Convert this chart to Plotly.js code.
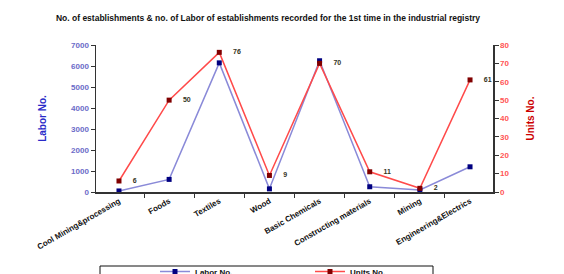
<!DOCTYPE html>
<html>
<head>
<meta charset="utf-8">
<script src="https://cdn.plot.ly/plotly-3.0.1.min.js"></script>
<style>html,body{margin:0;padding:0;background:#fff;}#chart{width:564px;height:274px;}</style>
</head>
<body>
<div id="chart"></div>
<script>
const categories = ["Cool Mining&processing", "Foods", "Textiles", "Wood", "Basic Chemicals", "Constructing materials", "Mining", "Engineering&Electrics"];
const laborNo = [50, 600, 6150, 150, 6250, 250, 100, 1200];
const unitsNo = [6, 50, 76, 9, 70, 11, 2, 61];
const unitLabels = unitsNo.map(v => "     " + v);

const traces = [
  {
    x: categories, y: laborNo, name: "Labor No.", type: "scatter", mode: "lines+markers",
    line: {color: "#8a8ad8", width: 1.5},
    marker: {symbol: "square", size: 5, color: "#000080"},
    yaxis: "y"
  },
  {
    x: categories, y: unitsNo, name: "Units No.", type: "scatter", mode: "lines+markers+text",
    text: unitLabels, textposition: "middle right",
    textfont: {family: "Arial", size: 7, color: "#333322", weight: "bold"},
    line: {color: "#ff4a4a", width: 1.5},
    marker: {symbol: "square", size: 5, color: "#800000"},
    yaxis: "y2", cliponaxis: false
  }
];

const layout = {
  width: 564, height: 274,
  margin: {l: 96, r: 71, t: 45, b: 82, autoexpand: false},
  paper_bgcolor: "#ffffff", plot_bgcolor: "#ffffff",
  showlegend: true,
  title: {
    text: "<b>No. of establishments & no. of Labor of establishments recorded for the 1st time in the industrial registry</b>",
    font: {family: "Arial", size: 8.5, color: "#111111"},
    x: 268 / 564, xanchor: "center", y: 1 - 18 / 274, yanchor: "middle"
  },
  xaxis: {
    type: "category", tickson: "boundaries", ticks: "outside", ticklen: 4, tickcolor: "#333",
    showline: true, linecolor: "#333", linewidth: 1.5, showgrid: false, zeroline: false, automargin: false,
    tickangle: -30, tickfont: {family: "Arial", size: 8, color: "#111", weight: "bold"}
  },
  yaxis: {
    range: [0, 7000], dtick: 1000, ticks: "outside", ticklen: 4, tickcolor: "#333", automargin: false,
    showline: true, linecolor: "#333", linewidth: 1.5, showgrid: false, zeroline: false,
    tickfont: {family: "Arial", size: 8, color: "#6b6bc8", weight: "bold"},
    title: {text: "<b>Labor No.</b>", font: {family: "Arial", size: 10, color: "#2a2ac8"}, standoff: 22}
  },
  yaxis2: {
    range: [0, 80], dtick: 10, overlaying: "y", side: "right", ticks: "outside", ticklen: 4, tickcolor: "#333", automargin: false,
    showline: true, linecolor: "#333", linewidth: 1.5, showgrid: false, zeroline: false,
    tickfont: {family: "Arial", size: 8, color: "#ff5555", weight: "bold"},
    title: {text: "<b>Units No.</b>", font: {family: "Arial", size: 10, color: "#cc0000"}, standoff: 18}
  },
  shapes: [{
    type: "rect", xref: "paper", yref: "paper",
    x0: (100 - 96) / 397, x1: (433 - 96) / 397, y0: -(266 - 192) / 147, y1: -(300 - 192) / 147,
    line: {color: "#111", width: 1}, fillcolor: "rgba(0,0,0,0)"
  }],
  legend: {
    orientation: "h", x: (155 - 96) / 397, xanchor: "left", y: -(257 - 192) / 147, yanchor: "top",
    borderwidth: 0, bgcolor: "rgba(0,0,0,0)",
    entrywidth: 110, font: {family: "Arial", size: 8, color: "#111", weight: "bold"}
  }
};

Plotly.newPlot("chart", traces, layout, {displayModeBar: false, staticPlot: true});
</script>
</body>
</html>
